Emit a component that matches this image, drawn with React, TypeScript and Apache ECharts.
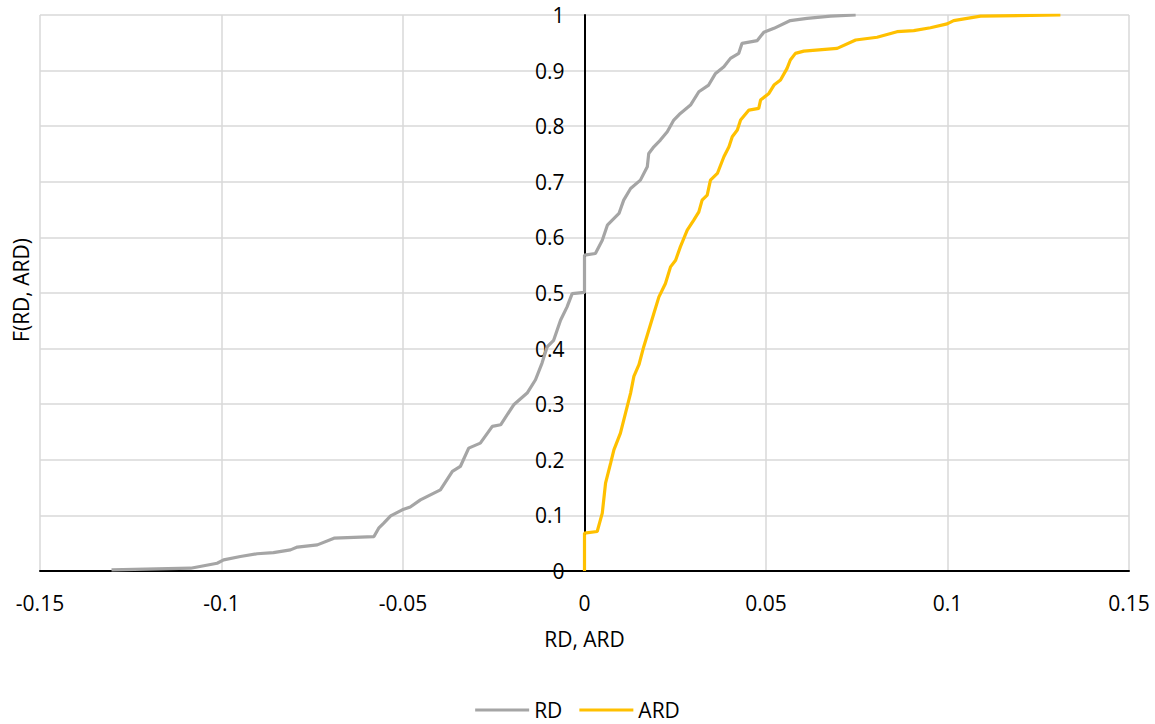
import React, { useEffect, useRef } from "react";
import * as echarts from "echarts";

const xTicks = { min: -0.15, max: 0.15, interval: 0.05 };
const yTicks = { min: 0, max: 1, interval: 0.1 };

const rdPoints: [number, number][] = [
  [-0.1303, 0.002], [-0.1085, 0.005], [-0.1012, 0.014], [-0.0994, 0.02], [-0.0948, 0.026],
  [-0.0902, 0.031], [-0.0857, 0.033], [-0.081, 0.038], [-0.0791, 0.043], [-0.0736, 0.047],
  [-0.069, 0.059], [-0.058, 0.062], [-0.0567, 0.077], [-0.0553, 0.086], [-0.0534, 0.099],
  [-0.0502, 0.11], [-0.048, 0.115], [-0.0452, 0.128], [-0.0397, 0.146], [-0.0364, 0.179],
  [-0.0342, 0.188], [-0.0319, 0.221], [-0.0287, 0.23], [-0.0254, 0.26], [-0.0231, 0.263],
  [-0.0195, 0.299], [-0.0158, 0.32], [-0.0135, 0.344], [-0.0117, 0.374], [-0.0103, 0.403],
  [-0.0085, 0.415], [-0.0066, 0.451], [-0.0048, 0.475], [-0.0034, 0.499], [0, 0.501],
  [0, 0.568], [0.003, 0.571], [0.0049, 0.595], [0.0063, 0.622], [0.0095, 0.643],
  [0.0108, 0.667], [0.0127, 0.688], [0.0154, 0.703], [0.0173, 0.727], [0.0177, 0.751],
  [0.0191, 0.763], [0.0209, 0.775], [0.0228, 0.79], [0.0246, 0.811], [0.0264, 0.823],
  [0.0292, 0.838], [0.0315, 0.862], [0.0342, 0.874], [0.0361, 0.895], [0.0384, 0.907],
  [0.0402, 0.922], [0.0425, 0.931], [0.0434, 0.949], [0.0476, 0.954], [0.0494, 0.969],
  [0.0522, 0.976], [0.0567, 0.99], [0.0613, 0.994], [0.0678, 0.998], [0.0747, 1.0],
];

const ardPoints: [number, number][] = [
  [0, 0], [0, 0.068], [0.0035, 0.071], [0.0049, 0.104], [0.0058, 0.158], [0.0072, 0.194],
  [0.0081, 0.218], [0.0099, 0.248], [0.0113, 0.284], [0.0127, 0.32], [0.0136, 0.35],
  [0.015, 0.371], [0.0163, 0.403], [0.0177, 0.433], [0.0191, 0.463], [0.0205, 0.493],
  [0.0223, 0.517], [0.0237, 0.547], [0.0251, 0.559], [0.0264, 0.583], [0.0283, 0.613],
  [0.0301, 0.631], [0.0315, 0.646], [0.0324, 0.667], [0.0338, 0.676], [0.0347, 0.703],
  [0.0366, 0.715], [0.0384, 0.745], [0.0398, 0.763], [0.0407, 0.781], [0.0421, 0.793],
  [0.043, 0.811], [0.0453, 0.829], [0.048, 0.832], [0.0485, 0.847], [0.0508, 0.859],
  [0.0522, 0.874], [0.054, 0.883], [0.0558, 0.904], [0.0567, 0.919], [0.0581, 0.931],
  [0.0604, 0.935], [0.0696, 0.94], [0.0747, 0.955], [0.0806, 0.96], [0.0861, 0.97],
  [0.0907, 0.972], [0.0953, 0.977], [0.0999, 0.984], [0.1017, 0.99], [0.1091, 0.998],
  [0.1311, 1.0],
];

const seriesNames = ["RD", "ARD"];
const seriesColors = ["#A5A5A5", "#FFC000"];
const xAxisTitle = "RD, ARD";
const yAxisTitle = "F(RD, ARD)";

const FONT = "'Open Sans', 'Noto Sans', sans-serif";
const FS = 21;
const GRID_LEFT = 40;
const GRID_RIGHT = 26;
const WIDTH = 1155;

export default function App() {
  const ref = useRef<HTMLDivElement>(null);
  useEffect(() => {
    document.body.style.margin = "0";
    if (!ref.current) return;
    const chart = echarts.init(ref.current, undefined, { renderer: "svg" });
    const plotW = WIDTH - GRID_LEFT - GRID_RIGHT;
    const zeroOffset = -((0 - xTicks.min) / (xTicks.max - xTicks.min)) * plotW;
    chart.setOption({
      animation: false,
      textStyle: { fontFamily: FONT },
      grid: {
        left: GRID_LEFT,
        right: GRID_RIGHT,
        top: 15,
        bottom: 153,
        containLabel: false,
        outerBoundsMode: "none",
      },
      legend: {
        data: seriesNames,
        top: 699,
        left: "center",
        padding: 0,
        icon: "rect",
        itemWidth: 54,
        itemHeight: 3,
        itemGap: 17,
        textStyle: { fontSize: FS, lineHeight: 22, color: "#000", fontFamily: FONT },
      },
      xAxis: {
        type: "value",
        min: xTicks.min,
        max: xTicks.max,
        interval: xTicks.interval,
        name: xAxisTitle,
        nameLocation: "middle",
        nameGap: 57,
        nameTextStyle: { fontSize: FS, color: "#000", fontFamily: FONT },
        axisLine: { show: true, onZero: true, lineStyle: { color: "#000", width: 2 } },
        axisTick: { show: false },
        axisLabel: { fontSize: FS, color: "#000", margin: 21, fontFamily: FONT },
        splitLine: { show: true, lineStyle: { color: "#D9D9D9", width: 1.5 } },
      },
      yAxis: {
        type: "value",
        min: yTicks.min,
        max: yTicks.max,
        interval: yTicks.interval,
        position: "left",
        offset: zeroOffset,
        axisLine: { show: true, onZero: false, lineStyle: { color: "#000", width: 2 } },
        axisTick: { show: false },
        axisLabel: { fontSize: FS, color: "#000", margin: 20, fontFamily: FONT },
        splitLine: { show: true, lineStyle: { color: "#D9D9D9", width: 1.5 } },
      },
      graphic: [
        {
          type: "text",
          x: 21,
          y: 290,
          rotation: Math.PI / 2,
          style: {
            text: yAxisTitle,
            fontSize: FS,
            fontFamily: FONT,
            fill: "#000",
            textAlign: "center",
            textVerticalAlign: "middle",
          },
        },
      ],
      series: [
        {
          name: seriesNames[0],
          type: "line",
          data: rdPoints,
          showSymbol: false,
          symbol: "none",
          lineStyle: { color: seriesColors[0], width: 3.2 },
          itemStyle: { color: seriesColors[0] },
        },
        {
          name: seriesNames[1],
          type: "line",
          data: ardPoints,
          showSymbol: false,
          symbol: "none",
          lineStyle: { color: seriesColors[1], width: 3.2 },
          itemStyle: { color: seriesColors[1] },
        },
      ],
    });
    return () => chart.dispose();
  }, []);
  return <div ref={ref} style={{ width: 1155, height: 724 }} />;
}
